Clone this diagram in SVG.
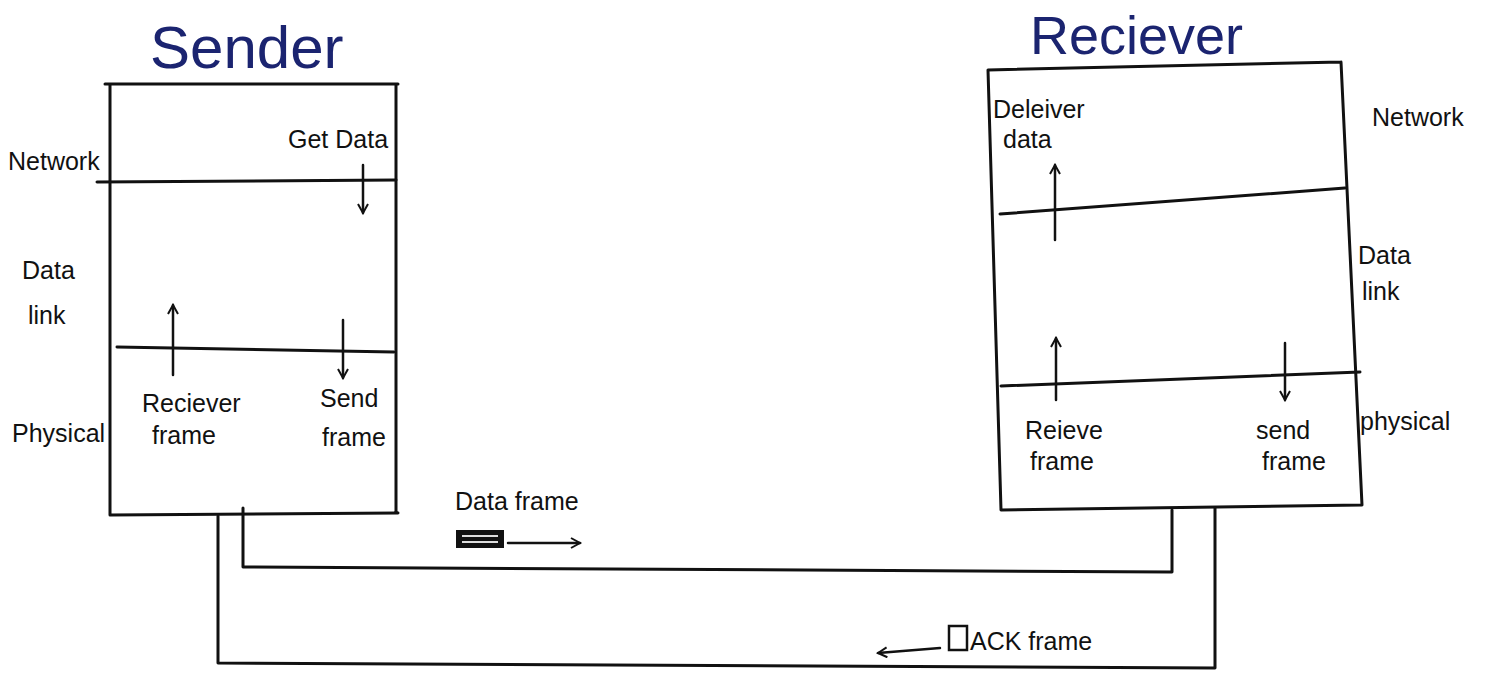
<svg xmlns="http://www.w3.org/2000/svg" width="1494" height="686" viewBox="0 0 1494 686">
<defs>
<style>
.ln{stroke:#111;stroke-width:3;fill:none;stroke-linecap:round;stroke-linejoin:round}
.ar{stroke:#111;stroke-width:2.5;fill:none;stroke-linecap:round}
.t{font-family:"Liberation Sans",Arial,sans-serif;font-size:25px;fill:#111}
.title{font-family:"Liberation Sans",Arial,sans-serif;fill:#1b2470}
</style>
<marker id="ah" viewBox="0 0 12 12" refX="10" refY="6" markerWidth="12" markerHeight="12" markerUnits="userSpaceOnUse" orient="auto">
<path d="M1,1 L10,6 L1,11" fill="none" stroke="#111" stroke-width="2"/>
</marker>
</defs>
<rect width="1494" height="686" fill="#ffffff"/>

<g id="sender">
<text class="title" x="150" y="68" font-size="60">Sender</text>
<path class="ln" d="M105,84 L398,84 M110,84 L110,515 M396,84 L396,513 M110,515 L398,513"/>
<path class="ln" d="M97,182 L396,180"/>
<path class="ln" d="M117,347 L394,352"/>
<text class="t" x="8" y="170" font-size="27">Network</text>
<text class="t" x="22" y="279">Data</text>
<text class="t" x="28" y="324">link</text>
<text class="t" x="12" y="442">Physical</text>
<text class="t" x="288" y="148" font-size="24">Get Data</text>
<line class="ar" x1="363" y1="165" x2="363" y2="213" marker-end="url(#ah)"/>
<line class="ar" x1="173" y1="375" x2="173" y2="305" marker-end="url(#ah)"/>
<line class="ar" x1="343" y1="320" x2="343" y2="378" marker-end="url(#ah)"/>
<text class="t" x="142" y="412">Reciever</text>
<text class="t" x="152" y="444">frame</text>
<text class="t" x="320" y="407">Send</text>
<text class="t" x="322" y="446">frame</text>
</g>

<g id="receiver">
<text class="title" x="1030" y="54" font-size="54">Reciever</text>
<path class="ln" d="M988,70 L1341,62 M988,70 L1001,510 M1341,62 L1362,505 M1001,510 L1362,505"/>
<path class="ln" d="M1000,214 L1345,188"/>
<path class="ln" d="M1001,386 L1360,372"/>
<text class="t" x="993" y="118" font-size="27">Deleiver</text>
<text class="t" x="1003" y="148" font-size="27">data</text>
<line class="ar" x1="1055" y1="240" x2="1055" y2="165" marker-end="url(#ah)"/>
<text class="t" x="1372" y="126" font-size="27">Network</text>
<text class="t" x="1358" y="264">Data</text>
<text class="t" x="1362" y="300">link</text>
<text class="t" x="1360" y="430" font-size="27">physical</text>
<line class="ar" x1="1056" y1="400" x2="1056" y2="338" marker-end="url(#ah)"/>
<line class="ar" x1="1285" y1="343" x2="1285" y2="400" marker-end="url(#ah)"/>
<text class="t" x="1025" y="439">Reieve</text>
<text class="t" x="1030" y="470">frame</text>
<text class="t" x="1256" y="439">send</text>
<text class="t" x="1262" y="470">frame</text>
</g>

<g id="connectors">
<path class="ln" d="M243,508 L243,567 L1172,572 L1172,510"/>
<path class="ln" d="M218,516 L218,663 L1215,668 L1215,508"/>
</g>

<g id="data-frame">
<text class="t" x="455" y="510" font-size="28">Data frame</text>
<rect x="456" y="530" width="48" height="18" fill="#111"/>
<line x1="462" y1="536" x2="498" y2="536" stroke="#ddd" stroke-width="2"/>
<line x1="462" y1="542" x2="498" y2="542" stroke="#ddd" stroke-width="2"/>
<line class="ar" x1="508" y1="543" x2="580" y2="543" marker-end="url(#ah)"/>
</g>

<g id="ack-frame">
<line class="ar" x1="940" y1="648" x2="878" y2="653" marker-end="url(#ah)"/>
<rect x="949" y="626" width="18" height="24" fill="none" stroke="#111" stroke-width="2.5"/>
<text class="t" x="970" y="650" font-size="32">ACK frame</text>
</g>
</svg>
